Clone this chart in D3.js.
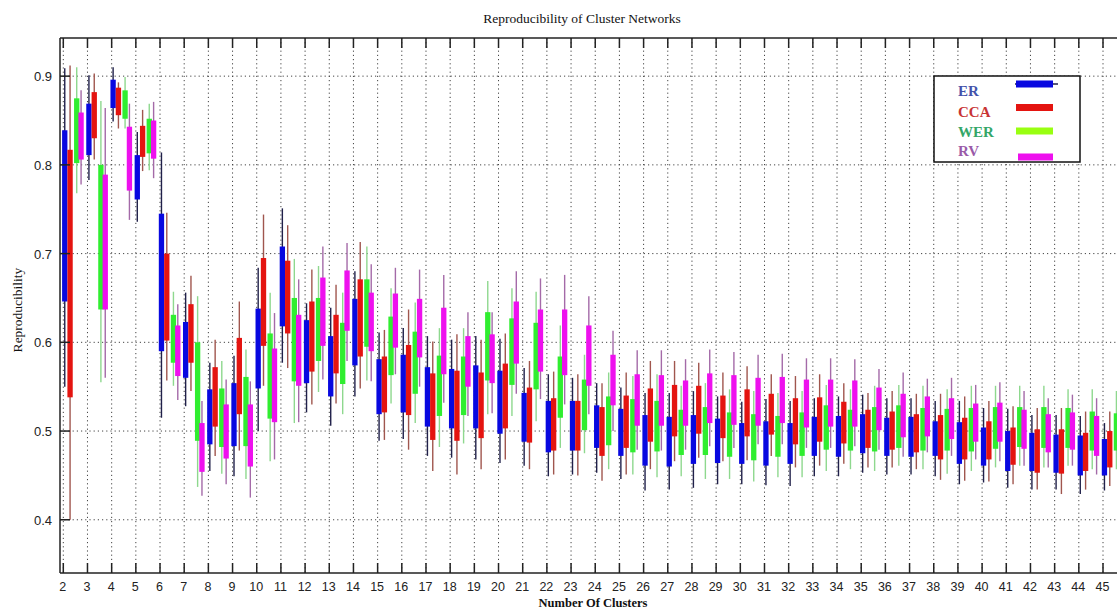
<!DOCTYPE html>
<html><head><meta charset="utf-8">
<script src="https://cdn.jsdelivr.net/npm/d3@7"></script>
<style>body{margin:0;background:#fff}svg{display:block}</style>
</head><body><svg id="c" width="1117" height="610"></svg>
<script>
const clusters = [2,3,4,5,6,7,8,9,10,11,12,13,14,15,16,17,18,19,20,21,22,23,24,25,26,27,28,29,30,31,32,33,34,35,36,37,38,39,40,41,42,43,44,45];
const yTicks = [0.4,0.5,0.6,0.7,0.8,0.9];
const seriesNames = ["ER","CCA","WER","RV"];
// each entry: [whisker low, box low, box high, whisker high]
const ER = [[0.55,0.646,0.839,0.909],[0.783,0.811,0.869,0.901],[0.849,0.864,0.896,0.91],[0.736,0.761,0.811,0.837],[0.515,0.59,0.745,0.814],[0.528,0.56,0.623,0.656],[0.455,0.485,0.547,0.577],[0.449,0.483,0.554,0.585],[0.50,0.548,0.638,0.684],[0.577,0.618,0.708,0.751],[0.521,0.554,0.625,0.644],[0.506,0.539,0.607,0.639],[0.539,0.574,0.649,0.68],[0.489,0.519,0.581,0.611],[0.491,0.521,0.586,0.616],[0.472,0.505,0.572,0.607],[0.47,0.503,0.57,0.603],[0.468,0.503,0.574,0.607],[0.464,0.497,0.568,0.604],[0.461,0.488,0.543,0.571],[0.449,0.476,0.534,0.564],[0.451,0.478,0.534,0.56],[0.453,0.481,0.529,0.554],[0.446,0.472,0.525,0.549],[0.433,0.461,0.518,0.543],[0.434,0.46,0.516,0.543],[0.436,0.463,0.518,0.545],[0.44,0.464,0.514,0.539],[0.44,0.463,0.509,0.533],[0.439,0.461,0.511,0.536],[0.438,0.463,0.509,0.534],[0.449,0.472,0.516,0.537],[0.449,0.471,0.517,0.539],[0.453,0.475,0.519,0.541],[0.451,0.472,0.515,0.537],[0.451,0.471,0.516,0.537],[0.449,0.472,0.511,0.534],[0.44,0.463,0.51,0.534],[0.442,0.461,0.504,0.526],[0.436,0.455,0.50,0.525],[0.434,0.455,0.498,0.518],[0.434,0.453,0.496,0.518],[0.429,0.45,0.495,0.517],[0.433,0.45,0.491,0.509]];
const CCA = [[0.40,0.538,0.817,0.912],[0.806,0.83,0.882,0.903],[0.841,0.856,0.887,0.893],[0.793,0.809,0.844,0.862],[0.557,0.602,0.70,0.746],[0.545,0.577,0.643,0.675],[0.472,0.505,0.572,0.603],[0.478,0.519,0.605,0.646],[0.551,0.596,0.695,0.744],[0.571,0.61,0.692,0.732],[0.53,0.567,0.646,0.682],[0.531,0.565,0.631,0.665],[0.548,0.584,0.671,0.713],[0.49,0.521,0.584,0.614],[0.479,0.518,0.597,0.637],[0.455,0.49,0.565,0.601],[0.451,0.489,0.568,0.609],[0.457,0.492,0.566,0.603],[0.468,0.503,0.576,0.61],[0.457,0.487,0.549,0.579],[0.451,0.478,0.537,0.567],[0.45,0.478,0.534,0.564],[0.444,0.472,0.527,0.554],[0.451,0.481,0.54,0.566],[0.457,0.488,0.548,0.579],[0.466,0.494,0.552,0.579],[0.47,0.497,0.551,0.577],[0.466,0.492,0.54,0.566],[0.467,0.494,0.547,0.573],[0.472,0.496,0.542,0.564],[0.459,0.485,0.537,0.562],[0.461,0.488,0.538,0.564],[0.463,0.486,0.533,0.554],[0.459,0.481,0.524,0.543],[0.459,0.479,0.522,0.545],[0.457,0.476,0.519,0.542],[0.445,0.468,0.518,0.542],[0.444,0.468,0.515,0.539],[0.443,0.468,0.511,0.534],[0.44,0.462,0.504,0.528],[0.434,0.453,0.502,0.526],[0.429,0.452,0.502,0.526],[0.434,0.455,0.498,0.522],[0.438,0.459,0.50,0.522]];
const WER = [[0.768,0.802,0.875,0.91],[0.555,0.637,0.80,0.872],[0.841,0.852,0.884,0.899],[0.794,0.813,0.852,0.869],[0.551,0.577,0.631,0.657],[0.437,0.489,0.60,0.652],[0.452,0.482,0.548,0.579],[0.446,0.483,0.561,0.592],[0.466,0.514,0.61,0.656],[0.509,0.556,0.65,0.694],[0.544,0.579,0.65,0.686],[0.519,0.553,0.622,0.656],[0.557,0.595,0.671,0.708],[0.531,0.563,0.629,0.661],[0.509,0.542,0.612,0.645],[0.482,0.517,0.585,0.616],[0.486,0.518,0.584,0.616],[0.519,0.557,0.634,0.669],[0.517,0.552,0.627,0.661],[0.511,0.547,0.622,0.657],[0.481,0.515,0.584,0.619],[0.475,0.501,0.558,0.586],[0.457,0.484,0.539,0.566],[0.451,0.476,0.536,0.562],[0.448,0.477,0.534,0.564],[0.449,0.473,0.524,0.551],[0.446,0.473,0.527,0.554],[0.446,0.471,0.521,0.547],[0.443,0.467,0.519,0.545],[0.448,0.471,0.517,0.543],[0.448,0.472,0.521,0.545],[0.455,0.479,0.529,0.552],[0.457,0.478,0.524,0.547],[0.455,0.477,0.527,0.551],[0.461,0.481,0.529,0.552],[0.457,0.478,0.526,0.551],[0.452,0.478,0.525,0.547],[0.455,0.477,0.526,0.551],[0.459,0.48,0.527,0.551],[0.461,0.482,0.527,0.551],[0.459,0.481,0.527,0.551],[0.461,0.481,0.526,0.547],[0.457,0.478,0.522,0.547],[0.457,0.478,0.52,0.545]];
const RV = [[0.778,0.806,0.859,0.884],[0.56,0.637,0.789,0.864],[0.738,0.771,0.843,0.869],[0.785,0.807,0.85,0.871],[0.535,0.562,0.619,0.643],[0.427,0.454,0.509,0.534],[0.44,0.469,0.53,0.558],[0.425,0.46,0.53,0.556],[0.468,0.51,0.593,0.633],[0.51,0.551,0.631,0.671],[0.558,0.596,0.673,0.708],[0.579,0.613,0.681,0.712],[0.556,0.59,0.656,0.688],[0.564,0.594,0.655,0.684],[0.55,0.583,0.649,0.682],[0.532,0.564,0.639,0.676],[0.517,0.55,0.607,0.634],[0.52,0.554,0.609,0.634],[0.542,0.576,0.646,0.68],[0.536,0.567,0.637,0.672],[0.53,0.563,0.637,0.676],[0.519,0.551,0.619,0.652],[0.50,0.529,0.586,0.613],[0.479,0.506,0.564,0.591],[0.478,0.506,0.563,0.591],[0.479,0.506,0.557,0.581],[0.483,0.509,0.565,0.592],[0.481,0.507,0.563,0.589],[0.485,0.506,0.56,0.586],[0.485,0.509,0.561,0.587],[0.481,0.504,0.558,0.582],[0.481,0.505,0.558,0.582],[0.483,0.505,0.557,0.581],[0.479,0.501,0.549,0.57],[0.471,0.493,0.542,0.566],[0.476,0.494,0.539,0.559],[0.472,0.491,0.537,0.56],[0.468,0.488,0.531,0.552],[0.466,0.488,0.532,0.555],[0.461,0.48,0.524,0.545],[0.459,0.476,0.519,0.537],[0.461,0.479,0.521,0.541],[0.451,0.472,0.517,0.537],[0.455,0.475,0.52,0.54]];
const seriesData = [ER, CCA, WER, RV];

// ---- styles / layout ----
const boxColors = ["#0808e0","#e41410","#30ee30","#ee10ee"];
const whiskerColors = ["#20204a","#a0564e","#8ed88e","#a46aa8"];
const legendTextColors = ["#4452aa","#c83434","#34a668","#9a5aa8"];
const legendSwatch = ["#0808e0","#e41410","#99ff11","#ee10ee"];
const offsets = [0.06, 0.28, 0.555, 0.735];
const boxW = 0.22;

const svg = d3.select("#c");
const W = 1117, H = 610, L = 60, T = 38, B = 573, R = 1117;
const x = d3.scaleLinear().domain([2,45]).range([63.3,1103]);
const y = d3.scaleLinear().domain([0.34,0.943]).range([B,T]);

svg.append("defs").append("clipPath").attr("id","plot")
  .append("rect").attr("x",L).attr("y",T).attr("width",R-L).attr("height",B-T);

// grid
const grid = svg.append("g").attr("stroke","#444").attr("stroke-width",1).attr("stroke-dasharray","1.2,3");
grid.selectAll("line.v").data(clusters).join("line").attr("class","v")
  .attr("x1",d=>x(d)).attr("x2",d=>x(d)).attr("y1",T).attr("y2",B);
grid.selectAll("line.h").data(yTicks).join("line").attr("class","h")
  .attr("x1",L).attr("x2",R).attr("y1",d=>y(d)).attr("y2",d=>y(d));

// marks
const plot = svg.append("g").attr("clip-path","url(#plot)");
const bw = x(2+boxW)-x(2);
seriesData.forEach((data,si)=>{
  const g = plot.append("g");
  g.selectAll("line").data(data).join("line")
    .attr("x1",(d,i)=>x(clusters[i]+offsets[si]))
    .attr("x2",(d,i)=>x(clusters[i]+offsets[si]))
    .attr("y1",d=>y(d[0])).attr("y2",d=>y(d[3]))
    .attr("stroke",whiskerColors[si]).attr("stroke-width",1.4);
  g.selectAll("rect").data(data).join("rect")
    .attr("x",(d,i)=>x(clusters[i]+offsets[si])-bw/2)
    .attr("width",bw)
    .attr("y",d=>y(d[2])).attr("height",d=>y(d[1])-y(d[2]))
    .attr("fill",boxColors[si]);
});

// axes frame
const ax = svg.append("g").attr("stroke","#222").attr("stroke-width",1.5);
ax.append("line").attr("x1",L).attr("x2",L).attr("y1",T).attr("y2",B);
ax.append("line").attr("x1",L).attr("x2",R).attr("y1",B).attr("y2",B);
ax.append("line").attr("x1",L).attr("x2",R).attr("y1",T).attr("y2",T);
ax.selectAll("line.bt").data(clusters).join("line").attr("class","bt")
  .attr("x1",d=>x(d)).attr("x2",d=>x(d)).attr("y1",B).attr("y2",B-10);
ax.selectAll("line.tt").data(clusters).join("line").attr("class","tt")
  .attr("x1",d=>x(d)).attr("x2",d=>x(d)).attr("y1",T).attr("y2",T+10);
ax.selectAll("line.lt").data(yTicks).join("line").attr("class","lt")
  .attr("x1",L).attr("x2",L+10).attr("y1",d=>y(d)).attr("y2",d=>y(d));

// tick labels
svg.append("g").selectAll("text").data(yTicks).join("text")
  .attr("x",52).attr("y",d=>y(d)+5).attr("text-anchor","end")
  .attr("font-family","Liberation Sans, Arial, sans-serif").attr("font-size",13).attr("fill","#222")
  .text(d=>d.toFixed(1));
svg.append("g").selectAll("text").data(clusters).join("text")
  .attr("x",d=>x(d)-0.5).attr("y",591).attr("text-anchor","middle")
  .attr("font-family","Liberation Sans, Arial, sans-serif").attr("font-size",12.5).attr("fill","#222")
  .text(d=>d);

// titles
svg.append("text").attr("x",582).attr("y",23).attr("text-anchor","middle")
  .attr("font-family","Liberation Serif, Times New Roman, serif").attr("font-size",13.5).attr("fill","#111")
  .text("Reproducibility of Cluster Networks");
svg.append("text").attr("x",593).attr("y",607).attr("text-anchor","middle")
  .attr("font-family","Liberation Serif, Times New Roman, serif").attr("font-size",12.5).attr("font-weight","bold").attr("fill","#111")
  .text("Number Of Clusters");
svg.append("text").attr("transform","translate(22,310) rotate(-90)").attr("text-anchor","middle")
  .attr("font-family","Liberation Serif, Times New Roman, serif").attr("font-size",13.5).attr("fill","#111")
  .text("Reproducibility");

// legend
const lg = svg.append("g");
lg.append("rect").attr("x",934).attr("y",76).attr("width",146).attr("height",86)
  .attr("fill","#fff").attr("stroke","#111").attr("stroke-width",1.5);
const legTextY = [96,117,137,156];
const legSwY = [84,107.5,131,157];
seriesNames.forEach((n,i)=>{
  lg.append("text").attr("x",958).attr("y",legTextY[i])
    .attr("font-family","Liberation Serif, Times New Roman, serif").attr("font-size",15).attr("font-weight","bold")
    .attr("fill",legendTextColors[i]).text(n);
  if(i===0) lg.append("line").attr("x1",1015).attr("x2",1058).attr("y1",legSwY[i]).attr("y2",legSwY[i])
    .attr("stroke",whiskerColors[0]).attr("stroke-width",1.4);
  lg.append("rect").attr("x",i===3?1018:1016).attr("y",legSwY[i]-3.5).attr("width",i===3?35:37).attr("height",7)
    .attr("fill",legendSwatch[i]);
});
</script></body></html>
